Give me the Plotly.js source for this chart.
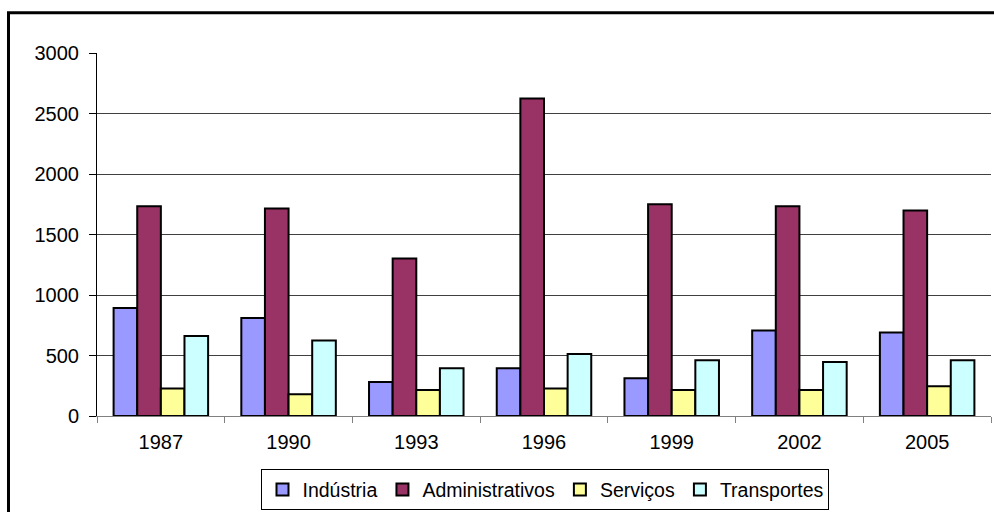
<!DOCTYPE html>
<html>
<head>
<meta charset="utf-8">
<script src="https://cdn.plot.ly/plotly-3.0.1.min.js"></script>
<style>
  html, body { margin: 0; padding: 0; background: #ffffff; }
  #chart { width: 994px; height: 512px; }
</style>
</head>
<body>
<div id="chart"></div>
<script>
const years = ['1987', '1990', '1993', '1996', '1999', '2002', '2005'];
const seriesNames = ['Indústria', 'Administrativos', 'Serviços', 'Transportes'];
const industria = [892, 809, 281, 394, 311, 707, 691];
const administrativos = [1734, 1715, 1302, 2623, 1751, 1734, 1698];
const servicos = [228, 179, 215, 228, 215, 215, 245];
const transportes = [661, 625, 394, 512, 460, 446, 460];
const yTicks = [0, 500, 1000, 1500, 2000, 2500, 3000];

const colors = ['#9999FF', '#993366', '#FFFF99', '#CCFFFF'];
const values = [industria, administrativos, servicos, transportes];

const traces = values.map((v, i) => ({
  type: 'bar',
  name: seriesNames[i],
  x: years,
  y: v,
  marker: { color: colors[i], line: { color: '#000000', width: 2 } },
  hoverinfo: 'x+y+name'
}));

const font = { family: 'Liberation Sans, Arial, sans-serif', size: 20, color: '#000000' };
const legendFont = { family: 'Liberation Sans, Arial, sans-serif', size: 19.5, color: '#000000' };

const layout = {
  width: 994,
  height: 512,
  margin: { l: 97, r: 3, t: 53, b: 95 },
  paper_bgcolor: '#ffffff',
  plot_bgcolor: '#ffffff',
  font: font,
  barmode: 'group',
  bargap: 0.26,
  bargroupgap: 0,
  showlegend: true,
  legend: {
    orientation: 'h',
    x: 0.184, y: -0.144, xanchor: 'left', yanchor: 'top',
    bordercolor: '#000000', borderwidth: 1,
    font: legendFont,
    itemwidth: 30,
    traceorder: 'normal'
  },
  xaxis: {
    type: 'category',
    tickson: 'boundaries',
    ticks: 'outside', ticklen: 6, tickcolor: '#808080',
    ticklabelstandoff: 8,
    showline: true, linecolor: '#808080', linewidth: 1,
    showgrid: false,
    tickfont: font,
    fixedrange: true
  },
  yaxis: {
    range: [0, 3000],
    tickvals: yTicks,
    ticktext: yTicks.map(String),
    ticks: 'outside', ticklen: 7, tickcolor: '#000000',
    ticklabelstandoff: 6,
    showline: true, linecolor: '#000000', linewidth: 1,
    showgrid: true, gridcolor: '#404040', gridwidth: 1,
    zeroline: false,
    tickfont: font,
    fixedrange: true
  },
  shapes: [{
    type: 'rect', xref: 'paper', yref: 'paper',
    x0: -0.099, x1: 1.2, y0: -0.6, y1: 1.111,
    line: { color: '#000000', width: 3 },
    fillcolor: 'rgba(0,0,0,0)', layer: 'above'
  }]
};

Plotly.newPlot('chart', traces, layout, { displayModeBar: false, staticPlot: true });
</script>
</body>
</html>
